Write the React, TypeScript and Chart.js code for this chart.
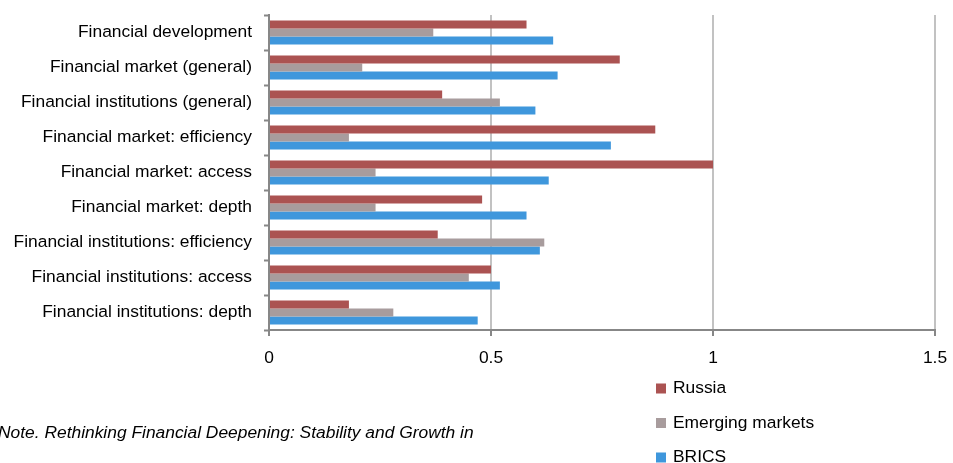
import React, { useEffect, useRef } from 'react';
import { Chart, registerables } from 'chart.js';

Chart.register(...registerables);

const categories = [
  'Financial development',
  'Financial market (general)',
  'Financial institutions (general)',
  'Financial market: efficiency',
  'Financial market: access',
  'Financial market: depth',
  'Financial institutions: efficiency',
  'Financial institutions: access',
  'Financial institutions: depth',
];
const russia = [0.58, 0.79, 0.39, 0.87, 1.0, 0.48, 0.38, 0.5, 0.18];
const emergingMarkets = [0.37, 0.21, 0.52, 0.18, 0.24, 0.24, 0.62, 0.45, 0.28];
const brics = [0.64, 0.65, 0.6, 0.77, 0.63, 0.58, 0.61, 0.52, 0.47];
const seriesNames = ['Russia', 'Emerging markets', 'BRICS'];
const seriesColors = ['#ab5352', '#a89c9d', '#3f97dc'];
const xMin = 0;
const xMax = 1.5;
const xStep = 0.5;
const noteText = 'Note. Rethinking Financial Deepening: Stability and Growth in';

const FONT_FAMILY = "'Liberation Sans', Arial, sans-serif";
const FONT_SIZE = 17.4;

const extrasPlugin = {
  id: 'extras',
  afterDraw(chart: any) {
    const ctx = chart.ctx as CanvasRenderingContext2D;
    ctx.save();
    ctx.font = `${FONT_SIZE}px ${FONT_FAMILY}`;
    ctx.textAlign = 'left';
    ctx.textBaseline = 'alphabetic';
    const baselines = [393, 427.5, 462];
    chart.data.datasets.forEach((ds: any, i: number) => {
      const b = baselines[i];
      ctx.fillStyle = ds.backgroundColor;
      ctx.fillRect(656, b - 9.5, 10, 10);
      ctx.fillStyle = '#000';
      ctx.fillText(ds.label, 673, b);
    });
    ctx.font = `italic ${FONT_SIZE}px ${FONT_FAMILY}`;
    ctx.fillStyle = '#000';
    ctx.fillText(noteText, -2, 438);
    ctx.restore();
  },
};

export default function App() {
  const ref = useRef<HTMLCanvasElement | null>(null);

  useEffect(() => {
    if (!ref.current) return;
    const values = [russia, emergingMarkets, brics];
    const chart = new Chart(ref.current, {
      type: 'bar',
      data: {
        labels: categories,
        datasets: seriesNames.map((name, i) => ({
          label: name,
          data: values[i],
          backgroundColor: seriesColors[i],
          borderWidth: 0,
          categoryPercentage: 0.69,
          barPercentage: 1,
        })),
      },
      options: {
        indexAxis: 'y',
        responsive: false,
        animation: false,
        devicePixelRatio: 1,
        layout: { padding: { top: 15, right: 18, bottom: 0, left: 0 } },
        plugins: {
          legend: { display: false },
          tooltip: { enabled: false },
        },
        scales: {
          x: {
            type: 'linear',
            min: xMin,
            max: xMax,
            ticks: {
              stepSize: xStep,
              color: '#000',
              padding: 12,
              font: { family: FONT_FAMILY, size: FONT_SIZE },
              callback: (v: any) => String(Number(v)),
            },
            grid: {
              color: '#c2c2c2',
              lineWidth: 2,
              tickColor: '#878787',
              tickLength: 6,
              tickWidth: 2,
            },
            border: { color: '#878787', width: 2 },
            afterFit(scale: any) {
              scale.height = 133;
              scale.paddingLeft = 0;
              scale.paddingRight = 0;
            },
          },
          y: {
            type: 'category',
            ticks: {
              color: '#000',
              padding: 12,
              autoSkip: false,
              font: { family: FONT_FAMILY, size: FONT_SIZE },
            },
            grid: {
              drawOnChartArea: false,
              drawTicks: true,
              tickLength: 5,
              tickColor: '#878787',
              tickWidth: 2,
              offset: true,
            },
            border: { color: '#878787', width: 2 },
            afterFit(scale: any) {
              scale.width = 269;
              scale.paddingTop = 0;
              scale.paddingBottom = 0;
            },
          },
        },
      },
      plugins: [extrasPlugin],
    });
    return () => chart.destroy();
  }, []);

  return (
    <div style={{ position: 'fixed', left: 0, top: 0, width: 953, height: 463, background: '#fff' }}>
      <canvas ref={ref} width={953} height={463} style={{ display: 'block', width: 953, height: 463 }} />
    </div>
  );
}
